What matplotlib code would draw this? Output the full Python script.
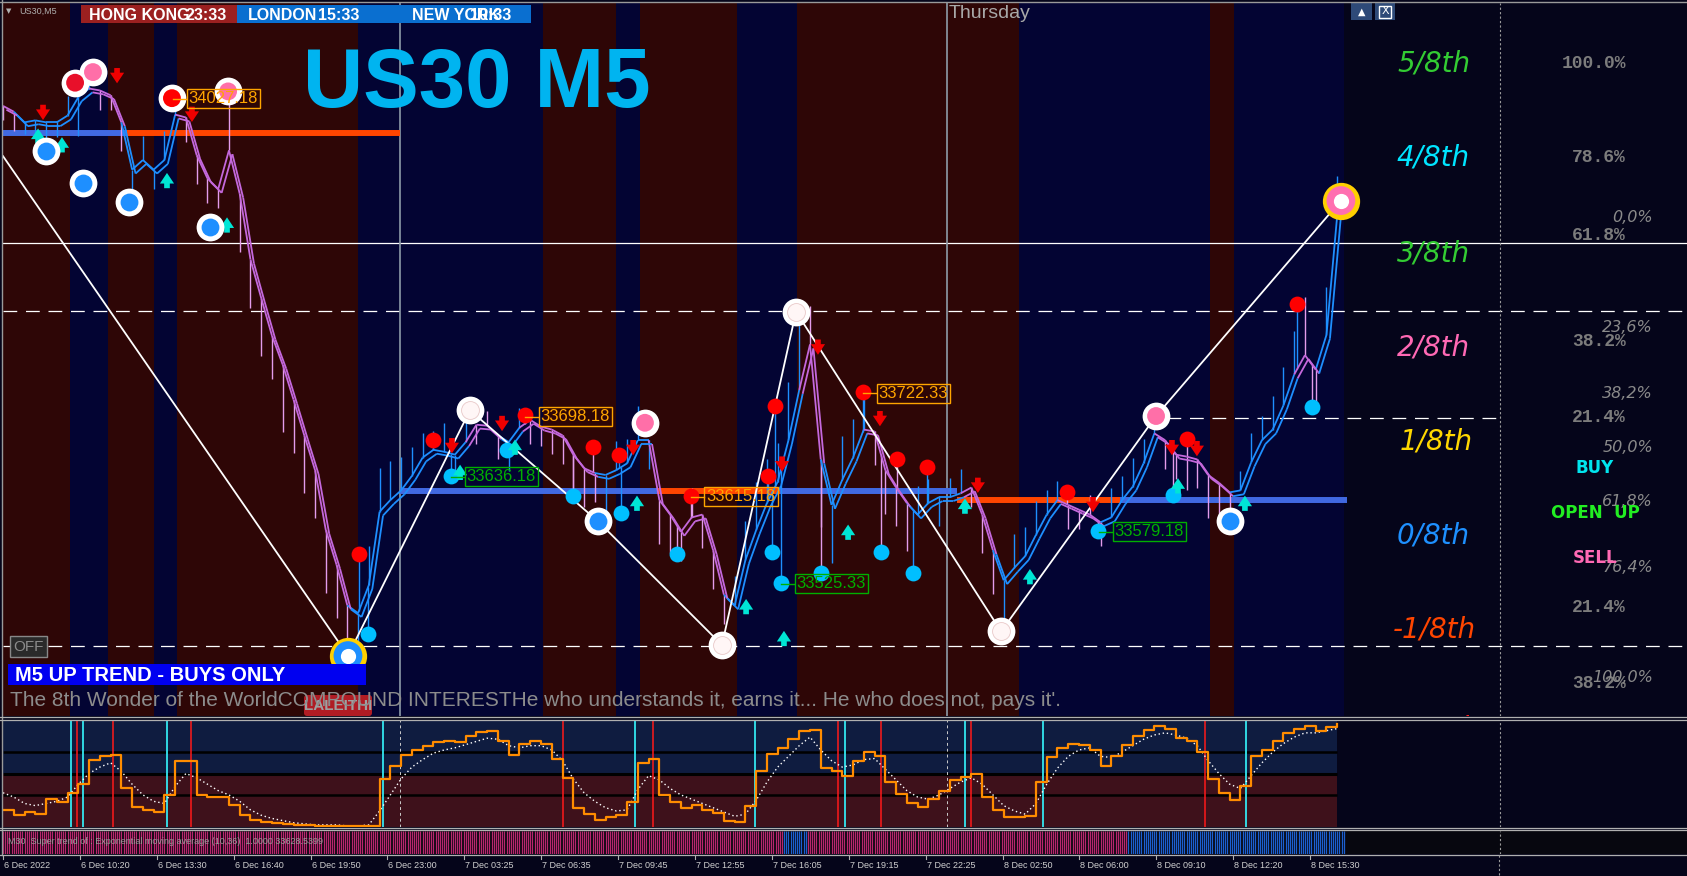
"""
us30_m5_chart.py

MT4 스타일 US30 M5 차트 재현
- 가격 라인(상승/하락 색상), 세션 배경, 지그재그, 신호 마커
- 하단 오실레이터 + 슈퍼트렌드 스트립
"""
import numpy as np
import matplotlib
matplotlib.use("Agg")
import matplotlib.pyplot as plt
from matplotlib.collections import LineCollection
from matplotlib.patches import Rectangle, FancyBboxPatch
from matplotlib.transforms import offset_copy

# ============================================================
# CONFIG
# ============================================================
W, H        = 1687, 876
PX_PER_BAR  = 2.152           # 가로 픽셀 / 봉
PT_STEP     = 5               # 데이터 한 점 = 5봉
Y_MIN, Y_MAX = 33388.5, 34126.5

BG       = "#05051a"
RED_BG   = "#2e0606"
NAVY_BG  = "#030433"
PURPLE   = "#c468dc"
PURPLE_W = "#e39ceb"
BLUE     = "#1e8fff"
ORANGE   = "#ff4500"
ROYAL    = "#4169e1"
LBL_OR   = "#ffa500"
LBL_GR   = "#00b000"
# ============================================================

# ---- 가격 (5봉 간격) -------------------------------------------------
CLOSE = [34020, 34014, 34003, 34005, 34003, 34003, 34010, 34029, 34038, 34036,
         34031, 34003, 33954, 33964, 33954, 33964, 34011, 34008, 33969, 33945,
         33934, 33974, 33929, 33861, 33821, 33782, 33752, 33716, 33679, 33643,
         33581, 33545, 33503, 33495, 33524, 33600, 33612, 33622, 33637, 33656,
         33664, 33662, 33659, 33672, 33690, 33689, 33679, 33672, 33687, 33695,
         33688, 33685, 33679, 33659, 33645, 33640, 33638, 33643, 33650, 33674,
         33674, 33612, 33597, 33579, 33594, 33597, 33560, 33514, 33503, 33550,
         33581, 33609, 33631, 33674, 33726, 33773, 33654, 33607, 33633, 33656,
         33685, 33683, 33643, 33625, 33609, 33597, 33609, 33615, 33615, 33619,
         33625, 33597, 33560, 33529, 33542, 33554, 33576, 33597, 33612, 33607,
         33602, 33597, 33589, 33594, 33612, 33626, 33650, 33681, 33674, 33659,
         33657, 33654, 33638, 33630, 33620, 33622, 33651, 33674, 33685, 33710,
         33742, 33762, 33747, 33783, 33907]

WICK = [-15, -20, -12, -18, -25, -15, 20, -40, 25, -20,
        -15, -30, -35, 25, -20, 30, 20, -25, -30, -25,
        -20, 60, -60, -50, -60, -45, -70, -55, -60, -50,
        -65, -55, -40, -35, 40, 45, 40, 35, 30, 25,
        20, 30, -25, 25, -20, 15, -25, -30, 20, -25,
        -20, -25, -30, -35, -40, -30, -40, 30, 25, 35,
        -30, -45, -40, -30, 30, -35, -40, -30, 30, 40,
        50, 45, 40, 60, 70, 40, -70, -60, 45, 40,
        45, -35, -45, -40, -50, 30, 25, -30, 20, 25,
        -20, -40, -45, -60, 35, 30, 35, 25, 20, -25,
        -20, 20, -25, 30, 25, 30, 25, 20, -30, -25,
        -35, -30, -45, -40, -30, 20, 30, 25, 35, 40,
        45, 60, -45, 50, 40]

# 상승 구간 (점 인덱스, 포함)
UP_RANGES = [(2, 8), (12, 16), (33, 43), (47, 48), (56, 60), (68, 74),
             (77, 80), (85, 89), (93, 98), (103, 107), (115, 120), (123, 124)]

# ---- 세션 배경 (봉 단위) ----------------------------------------------
RED_SESSIONS  = [(0, 31), (49, 70), (81, 165), (251, 285), (296, 341), (369, 472), (561, 572)]
NAVY_SESSIONS = [(31, 49), (70, 81), (165, 251), (285, 296), (341, 369), (472, 561), (572, 623)]
SEPARATORS = [184.5, 438.7]
SHIFT_BAR  = 695.6

# ---- 수평 레벨 ---------------------------------------------------------
LEVEL_SOLID  = 33878
LEVEL_DASHED = [33808, 33461]
LEVEL_SHORT  = (33697, 541, 695.6)
PIVOTS = [(33992, 0, 57.6, ROYAL), (33992, 57.6, 184.5, ORANGE),
          (33621, 184.5, 303.9, ROYAL), (33621, 303.9, 361, ORANGE),
          (33621, 361, 443.3, ROYAL), (33612, 443.3, 519, ORANGE),
          (33612, 519, 624.5, ROYAL)]

# ---- 지그재그 ----------------------------------------------------------
ZZ_X = [0, 160.3, 217, 276.5, 334.1, 368.5, 463.8, 535.8, 621.7]
ZZ_Y = [33968, 33451, 33705, 33590, 33462, 33807, 33476, 33699, 33922]

# ---- 마커 --------------------------------------------------------------
RING_RED_X = [33.5, 41.8, 78.5, 104.6, 298.3, 535.8]
RING_RED_Y = [34044, 34055, 34028, 34035, 33692, 33699]
RING_RED_C = ["#e8102a", "#ff6fa8", "#ff0000", "#ff6fa8", "#ff6fa8", "#ff6fa8"]
RING_BLUE_X = [20, 37.2, 58.6, 96.2, 276.5, 570.2]
RING_BLUE_Y = [33973, 33940, 33921, 33895, 33590, 33590]
RING_WHITE_X = [217, 334.1, 368.5, 463.8]
RING_WHITE_Y = [33705, 33462, 33807, 33476]
BIG_RING_X = [160.3, 621.7]
BIG_RING_Y = [33451, 33922]
BIG_RING_C = [BLUE, "#ff6fb0"]

RED_DOT_X = [165.4, 199.8, 242.6, 274.2, 286.2, 319.7, 358.7, 355.5, 399.6, 415.4, 429.4, 494.4, 550.2, 601.3]
RED_DOT_Y = [33556, 33674, 33700, 33667, 33659, 33616, 33709, 33637, 33724, 33655, 33646, 33620, 33675, 33815]
CYAN_DOT_X = [169.6, 208.2, 234.2, 264.9, 287.2, 313.2, 357.3, 361.5, 380.1, 408, 422.9, 508.8, 543.7, 608.3]
CYAN_DOT_Y = [33473, 33637, 33664, 33616, 33599, 33556, 33558, 33526, 33537, 33558, 33536, 33580, 33617, 33708]

UP_X = [16.3, 27.4, 76.2, 104.1, 212.4, 237.9, 294.6, 345.3, 362.9, 392.7, 447, 477.2, 546, 577.1]
UP_Y = [33988, 33979, 33942, 33896, 33640, 33666, 33608, 33501, 33468, 33578, 33605, 33532, 33626, 33608]
DN_X = [18.6, 53, 87.8, 208.6, 231.9, 292.8, 378.7, 362, 407.5, 453, 506.5, 543.2, 554.8]
DN_Y = [34014, 34052, 34012, 33669, 33692, 33667, 33771, 33650, 33697, 33628, 33608, 33667, 33666]

LABEL_PRICES = [34027.18, 33698.18, 33636.18, 33615.18, 33722.33, 33525.33, 33579.18]
LABEL_X      = [85, 248.6, 214.2, 325.7, 405.7, 367.6, 515.3]
LABEL_COLORS = [LBL_OR, LBL_OR, LBL_GR, LBL_OR, LBL_OR, LBL_GR, LBL_GR]

# ---- 오실레이터 ----------------------------------------------------------
OSC = [16, 11, 14, 12, 26, 23, 32, 40, 63, 66,
       67, 36, 19, 16, 14, 30, 62, 62, 30, 28,
       28, 21, 11, 7, 5, 4, 3, 2, 2, 1,
       1, 1, 1, 1, 1, 45, 57, 67, 72, 76,
       79, 80, 79, 85, 89, 90, 80, 67, 78, 80,
       78, 64, 46, 18, 12, 7, 9, 11, 23, 60,
       64, 30, 23, 18, 21, 16, 13, 6, 5, 20,
       52, 68, 74, 82, 90, 91, 55, 52, 48, 62,
       70, 66, 42, 31, 22, 19, 26, 34, 44, 47,
       50, 28, 16, 9, 9, 10, 42, 65, 74, 78,
       77, 72, 57, 66, 77, 85, 91, 94, 92, 83,
       80, 70, 45, 32, 25, 38, 66, 72, 80, 88,
       92, 94, 90, 93, 96]
SIG = [32, 28, 22, 20, 22, 24, 28, 40, 50, 56,
       60, 52, 40, 30, 24, 22, 38, 50, 46, 40,
       34, 30, 24, 16, 11, 8, 6, 4, 3, 2,
       2, 2, 1, 1, 2, 15, 30, 45, 56, 63,
       69, 72, 74, 77, 80, 83, 82, 76, 74, 76,
       76, 72, 62, 45, 32, 24, 18, 15, 16, 35,
       48, 44, 36, 30, 26, 22, 18, 14, 10, 12,
       25, 42, 56, 66, 76, 84, 72, 62, 56, 58,
       63, 64, 54, 44, 34, 28, 26, 30, 36, 42,
       46, 40, 30, 20, 15, 12, 22, 40, 55, 66,
       72, 74, 66, 65, 70, 76, 82, 86, 88, 86,
       83, 76, 62, 50, 40, 36, 48, 60, 70, 78,
       84, 88, 88, 90, 92]
OSC_LEVELS = [70, 50, 30]
CYAN_SIG = [31.4, 37, 76, 176.4, 293.7, 349.3, 391.1, 447, 483.3, 577.6]
RED_SIG  = [34.4, 51.1, 87.4, 260, 301.9, 388.2, 408, 449.6, 558.6]

# ---- 슈퍼트렌드 스트립 ---------------------------------------------------
STRIP_BLUE = [(363, 374), (523, 624)]
STRIP_END  = 624

TIME_LABELS = ["6 Dec 2022", "6 Dec 10:20", "6 Dec 13:30", "6 Dec 16:40", "6 Dec 19:50",
               "6 Dec 23:00", "7 Dec 03:25", "7 Dec 06:35", "7 Dec 09:45", "7 Dec 12:55",
               "7 Dec 16:05", "7 Dec 19:15", "7 Dec 22:25", "8 Dec 02:50", "8 Dec 06:00",
               "8 Dec 09:10", "8 Dec 12:20", "8 Dec 15:30"]
TIME_STEP_BARS = 35.73

# ---- 오른쪽 텍스트 -------------------------------------------------------
MURREY = [("5/8th", 1397, 63, "#33cc33"), ("4/8th", 1397, 157, "#00e5ff"),
          ("3/8th", 1397, 253, "#33cc33"), ("2/8th", 1397, 347, "#ff69b4"),
          ("1/8th", 1400, 442, "#ffd700"), ("0/8th", 1397, 535, "#1e90ff"),
          ("-1/8th", 1393, 630, "#ff4500")]
PCT_MONO = [("100.0%", 63), ("78.6%", 157), ("61.8%", 235), ("38.2%", 341),
            ("21.4%", 417), ("21.4%", 608), ("38.2%", 683)]
PCT_FIB = [("0,0%", 218), ("23,6%", 327), ("38,2%", 394), ("50,0%", 448),
           ("61,8%", 502), ("76,4%", 568), ("100,0%", 678)]
SIGNALS = [("BUY", 468, "#00e5ee"), ("OPEN  UP", 513, "#22ee22"), ("SELL", 558, "#ff69b4")]


def px_axes(fig, x0, y0, x1, y1, **kw):
    return fig.add_axes([x0 / W, 1 - y1 / H, (x1 - x0) / W, (y1 - y0) / H], **kw)


def clean(ax, facecolor=BG):
    ax.set_facecolor(facecolor)
    for s in ax.spines.values():
        s.set_visible(False)
    ax.set_xticks([])
    ax.set_yticks([])
    ax.set_xlim(0, (W - 3) / PX_PER_BAR)


def trend_mask(n):
    up = np.zeros(n, bool)
    for a, b in UP_RANGES:
        up[a:b + 1] = True
    return up


def draw_arrows(fig, ax, xs, ys, color, up):
    sgn = 1 if up else -1
    head = offset_copy(ax.transData, fig=fig, x=0, y=6 * sgn, units="points")
    tail = offset_copy(ax.transData, fig=fig, x=0, y=-5 * sgn, units="points")
    for xa, ya in zip(xs, ys):
        ax.annotate("", xy=(xa, ya), xycoords=head, xytext=(xa, ya), textcoords=tail,
                    arrowprops=dict(arrowstyle="simple,head_length=0.45,head_width=0.6,tail_width=0.24",
                                    color=color, lw=0, shrinkA=0, shrinkB=0, mutation_scale=17),
                    zorder=6)


def draw_price(fig, ax):
    n = len(CLOSE)
    x = np.arange(n) * PT_STEP
    y = np.array(CLOSE, float)
    up = trend_mask(n)

    for a, b in RED_SESSIONS:
        ax.axvspan(a, b, color=RED_BG, lw=0, zorder=0)
    for a, b in NAVY_SESSIONS:
        ax.axvspan(a, b, color=NAVY_BG, lw=0, zorder=0)

    ax.axhline(LEVEL_SOLID, color="white", lw=0.9, zorder=1)
    for lv in LEVEL_DASHED:
        ax.axhline(lv, color="white", lw=0.9, ls=(0, (11, 7)), zorder=1)
    ax.hlines(LEVEL_SHORT[0], LEVEL_SHORT[1], LEVEL_SHORT[2], color="white",
              lw=0.9, linestyles=[(0, (11, 7))], zorder=1)
    for s in SEPARATORS:
        ax.axvline(s, color="#8d9ba8", lw=1.2, zorder=1)
    ax.axvline(SHIFT_BAR, color="#9a9a9a", lw=0.8, ls=(0, (2, 2)), zorder=1)

    for p, a, b, c in PIVOTS:
        ax.hlines(p, a, b, color=c, lw=4.3, zorder=2)

    # 꼬리
    wcols = np.where(up, BLUE, PURPLE_W)
    ax.vlines(x, y, y + np.array(WICK), colors=wcols, lw=1.0, zorder=3)

    # 신호 점까지 스파이크
    for xs, ys in ((RED_DOT_X, RED_DOT_Y), (CYAN_DOT_X, CYAN_DOT_Y)):
        base = np.interp(xs, x, y)
        idx = np.clip(np.round(np.array(xs) / PT_STEP).astype(int), 0, n - 1)
        ax.vlines(xs, ys, base, colors=np.where(up[idx], BLUE, PURPLE_W), lw=1.0, zorder=3)

    # 이중 라인
    lcol = np.where(up[1:], BLUE, PURPLE)
    for dx, dy in ((0, 0), (1.6, -4)):
        pts = np.column_stack([x + dx, y + dy])
        segs = np.stack([pts[:-1], pts[1:]], axis=1)
        ax.add_collection(LineCollection(segs, colors=lcol, lw=1.3, zorder=4))

    ax.plot(ZZ_X, ZZ_Y, color="white", lw=1.3, zorder=5)

    # 링 마커
    ax.scatter(BIG_RING_X, BIG_RING_Y, s=720, color="#ffd000", zorder=7, lw=0)
    ax.scatter(BIG_RING_X, BIG_RING_Y, s=430, color=BIG_RING_C, zorder=8, lw=0)
    ax.scatter(BIG_RING_X, BIG_RING_Y, s=120, color="white", zorder=9, lw=0)
    allx = RING_RED_X + RING_BLUE_X + RING_WHITE_X
    ally = RING_RED_Y + RING_BLUE_Y + RING_WHITE_Y
    ax.scatter(allx, ally, s=400, color="white", zorder=7, lw=0)
    ax.scatter(RING_RED_X, RING_RED_Y, s=165, color=RING_RED_C, zorder=8, lw=0)
    ax.scatter(RING_BLUE_X, RING_BLUE_Y, s=165, color=BLUE, zorder=8, lw=0)
    ax.scatter(RING_WHITE_X, RING_WHITE_Y, s=165, color="#fff6f6",
               edgecolors="#e8c8c8", lw=0.6, zorder=8)

    ax.scatter(RED_DOT_X, RED_DOT_Y, s=130, color="#ff0000", zorder=6, lw=0)
    ax.scatter(CYAN_DOT_X, CYAN_DOT_Y, s=130, color="#00bfff", zorder=6, lw=0)

    draw_arrows(fig, ax, UP_X, UP_Y, "#00e5d5", True)
    draw_arrows(fig, ax, DN_X, DN_Y, "#f00000", False)

    for p, xl, c in zip(LABEL_PRICES, LABEL_X, LABEL_COLORS):
        ax.plot([xl - 6, xl], [p, p], color=c, lw=1, zorder=10)
        ax.text(xl + 1.2, p, f"{p:.2f}", color=c, fontsize=12, family="Liberation Sans",
                ha="left", va="center", zorder=10,
                bbox=dict(boxstyle="square,pad=0.12", fc="none", ec=c, lw=1))

    # 잘린 -2/8th
    ax.text(647.8, 33376, "-2/8th", color="#ff2020", fontsize=20, style="italic",
            ha="left", va="center", clip_on=True, zorder=10)
    ax.set_ylim(Y_MIN, Y_MAX)


def draw_osc(ax):
    n = len(OSC)
    x = np.arange(n) * PT_STEP
    last = (n - 1) * PT_STEP
    ax.axhspan(50, 100, xmin=0, xmax=last / ax.get_xlim()[1], color="#0f1c40", lw=0, zorder=0)
    ax.axhspan(0, 50, xmin=0, xmax=last / ax.get_xlim()[1], color="#3e111b", lw=0, zorder=0)
    for lv in OSC_LEVELS:
        ax.hlines(lv, 0, last, color="black", lw=2.2 if lv == 50 else 1.8, zorder=1)
    for s in SEPARATORS:
        ax.axvline(s, color="#cccccc", lw=0.7, ls=(0, (3, 3)), zorder=1)
    ax.axvline(SHIFT_BAR, color="#9a9a9a", lw=0.8, ls=(0, (2, 2)), zorder=1)
    ax.vlines(CYAN_SIG, 0, 100, colors="#33e6f0", lw=1.3, zorder=2)
    ax.vlines(RED_SIG, 0, 100, colors="#ff1a1a", lw=1.1, zorder=2)
    ax.plot(x, SIG, color="white", lw=1.0, ls=(0, (1, 2)), zorder=3)
    ax.plot(x, OSC, color="#ff8c00", lw=1.6, drawstyle="steps-post", zorder=4)
    ax.set_ylim(0, 100)


def draw_strip(ax):
    pos = np.arange(0, STRIP_END)
    cols = np.full(len(pos), "#b8266e", dtype=object)
    for a, b in STRIP_BLUE:
        cols[(pos >= a) & (pos < b)] = "#1c5fd0"
    ax.vlines(pos, 0, 1, colors=list(cols), lw=0.9, zorder=1)
    ax.axvline(SHIFT_BAR, color="#9a9a9a", lw=0.8, ls=(0, (2, 2)), zorder=1)
    ax.set_ylim(0, 1)


def draw_overlay(ov):
    ov.set_xlim(0, W)
    ov.set_ylim(H, 0)
    ov.axis("off")
    grey = "#9a9a9a"
    # 테두리
    ov.plot([0, W], [1.5, 1.5], color=grey, lw=1)
    ov.plot([2, 2], [0, 855], color=grey, lw=1)
    for yy in (717, 719.5, 828, 830, 855):
        ov.plot([0, W], [yy, yy], color="#b0b0b0", lw=0.9)
    ov.plot([1499, 1499], [855, 876], color=grey, lw=0.8, ls=(0, (2, 2)))

    # 시간 축
    for i, lab in enumerate(TIME_LABELS):
        xp = 3 + i * TIME_STEP_BARS * PX_PER_BAR
        ov.plot([xp, xp], [855, 859], color="#b0b0b0", lw=0.8)
        ov.text(xp + 1, 866, lab, color="#d0d0d0", fontsize=6.5, family="Liberation Sans",
                ha="left", va="center")

    # 심볼
    ov.text(6, 11, "\u25bc", color="#b0b0b0", fontsize=5, ha="left", va="center")
    ov.text(19, 11, "US30,M5", color="#b0b0b0", fontsize=6.5, family="Liberation Sans",
            ha="left", va="center")

    # 세션 바
    ov.add_patch(Rectangle((81, 5), 156, 18, color="#9b2020", lw=0))
    ov.add_patch(Rectangle((237, 5), 294, 18, color="#0a6fd0", lw=0))
    sess = [("HONG KONG", 89), ("23:33", 186), ("LONDON", 248), ("15:33", 318),
            ("NEW YORK", 412), ("10:33", 470)]
    for t, xp in sess:
        ov.text(xp, 19.5, t, color="white", fontsize=11.5, fontweight="bold",
                family="Liberation Sans", ha="left", va="baseline")

    ov.text(949, 18, "Thursday", color="#a8a8a8", fontsize=14, family="Liberation Sans",
            ha="left", va="baseline")

    # 창 버튼
    ov.add_patch(Rectangle((1351, 3), 21, 17, color="#2e4a78", lw=0))
    ov.add_patch(Rectangle((1375, 3), 20, 17, color="#2e4a78", lw=0))
    ov.text(1361.5, 11.5, "\u25b2", color="white", fontsize=7, ha="center", va="center")
    ov.add_patch(Rectangle((1379, 5.5), 12, 12, fc="none", ec="white", lw=1))
    ov.text(1385, 11.5, "X", color="white", fontsize=8, ha="center", va="center")

    # 타이틀
    ov.text(303, 107, "US30 M5", color="#00b4f0", fontsize=60, fontweight="bold",
            family="Liberation Sans", ha="left", va="baseline")

    # 오른쪽 레벨 텍스트
    for t, xp, yp, c in MURREY:
        ov.text(xp, yp, t, color=c, fontsize=20, style="italic", ha="left", va="center")
    for t, yp in PCT_MONO:
        ov.text(1626, yp, t, color="#7c7c7c", fontsize=13, fontweight="bold",
                family="Liberation Mono", ha="right", va="center")
    for t, yp in PCT_FIB:
        ov.text(1653, yp, t, color="#8a8a8a", fontsize=11.5, style="italic",
                ha="right", va="center")
    for t, yp, c in SIGNALS:
        ov.text(1595, yp, t, color=c, fontsize=12, fontweight="bold",
                ha="center", va="center")

    # OFF 버튼
    ov.add_patch(Rectangle((10, 636), 37, 21, fc="#2a2a2a", ec="#888888", lw=1))
    ov.text(28.5, 647, "OFF", color="#8a8a8a", fontsize=11, family="Liberation Sans",
            ha="center", va="center")

    # 추세 박스
    ov.add_patch(Rectangle((8, 664), 358, 21, color="#0000f0", lw=0))
    ov.text(15, 681, "M5 UP TREND - BUYS ONLY", color="white", fontsize=14.5,
            fontweight="bold", family="Liberation Sans", ha="left", va="baseline")

    # 로고 + 문구
    ov.add_patch(FancyBboxPatch((305, 696), 66, 19, boxstyle="round,pad=1,rounding_size=3",
                                color="#b01c24", lw=0))
    ov.text(338, 706, "LALEITHI", color="#a0a0a0", fontsize=11, fontweight="bold",
            family="Liberation Sans", ha="center", va="center")
    ov.text(10, 706, "The 8th Wonder of the WorldCOMPOUND INTERESTHe who understands it, "
            "earns it... He who does not, pays it'.", color="#8c8c8c", fontsize=15,
            family="Liberation Sans", ha="left", va="baseline")

    # 스트립 텍스트
    ov.text(8, 841.5, "M30  Super trend of : Exponential moving average (10,36)  1.0000 33628.5399",
            color="#9a9a9a", fontsize=6.5, family="Liberation Sans", ha="left", va="center")


def main() -> None:
    fig = plt.figure(figsize=(W / 100, H / 100), dpi=100)
    fig.patch.set_facecolor(BG)

    ax = px_axes(fig, 3, 3, W, 716)
    clean(ax)
    draw_price(fig, ax)

    ax2 = px_axes(fig, 3, 720, W, 827)
    clean(ax2)
    draw_osc(ax2)

    ax3 = px_axes(fig, 3, 831, W, 854)
    clean(ax3, "#07070f")
    draw_strip(ax3)

    ov = fig.add_axes([0, 0, 1, 1], zorder=20)
    ov.patch.set_alpha(0)
    draw_overlay(ov)

    fig.savefig("out.png", dpi=100, facecolor=BG)
    plt.close(fig)


if __name__ == "__main__":
    main()
